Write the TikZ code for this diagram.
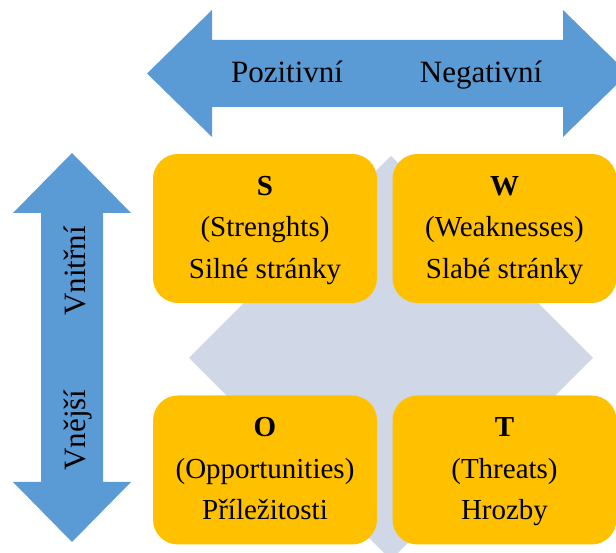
\documentclass[tikz,border=0pt]{standalone}
\usepackage{fontspec}
\setmainfont{Liberation Serif}

\definecolor{swotblue}{HTML}{5B9BD5}
\definecolor{swotgold}{HTML}{FFC000}
\definecolor{swotgrey}{HTML}{D0D7E6}

\tikzset{
  swotbox/.style={rectangle, rounded corners=25pt, fill=swotgold, minimum width=224pt, minimum height=149pt, align=center, inner sep=0pt, font=\fontsize{29}{41.5}\selectfont},
  axislabel/.style={inner sep=0pt, anchor=base, font=\fontsize{31}{36}\selectfont},
  axisarrow/.style={fill=swotblue, draw=none}
}

\begin{document}
\begin{tikzpicture}[x=1pt, y=1pt]
\clip (0,0) rectangle (616,553);

\fill[swotgrey] (189,195) -- (391,397) -- (593,195) -- (391,-7) -- cycle;

\fill[axisarrow] (147,479.5) -- (212,543) -- (212,513) -- (563,513) -- (563,543) -- (628,479.5) -- (563,416) -- (563,446) -- (212,446) -- (212,416) -- cycle;
\fill[axisarrow] (72,400) -- (131,340) -- (103,340) -- (103,71) -- (131,71) -- (72,11) -- (13,71) -- (41,71) -- (41,340) -- (13,340) -- cycle;

\node[axislabel] (pos) at (287,470) {Pozitivní};
\node[axislabel] (neg) at (481,470) {Negativní};
\node[axislabel, rotate=90] (vni) at (85,282) {Vnitřní};
\node[axislabel, rotate=90] (vne) at (85,123) {Vnější};

\node[swotbox] (S) at (265,324.5) {\strut\textbf{S}\\(Strenghts)\\Silné stránky\strut};
\node[swotbox] (W) at (504.5,324.5) {\strut\textbf{W}\\(Weaknesses)\\Slabé stránky\strut};
\node[swotbox] (O) at (265,83) {\strut\textbf{O}\\(Opportunities)\\Příležitosti\strut};
\node[swotbox] (T) at (504.5,83) {\strut\textbf{T}\\(Threats)\\Hrozby\strut};
\end{tikzpicture}
\end{document}
